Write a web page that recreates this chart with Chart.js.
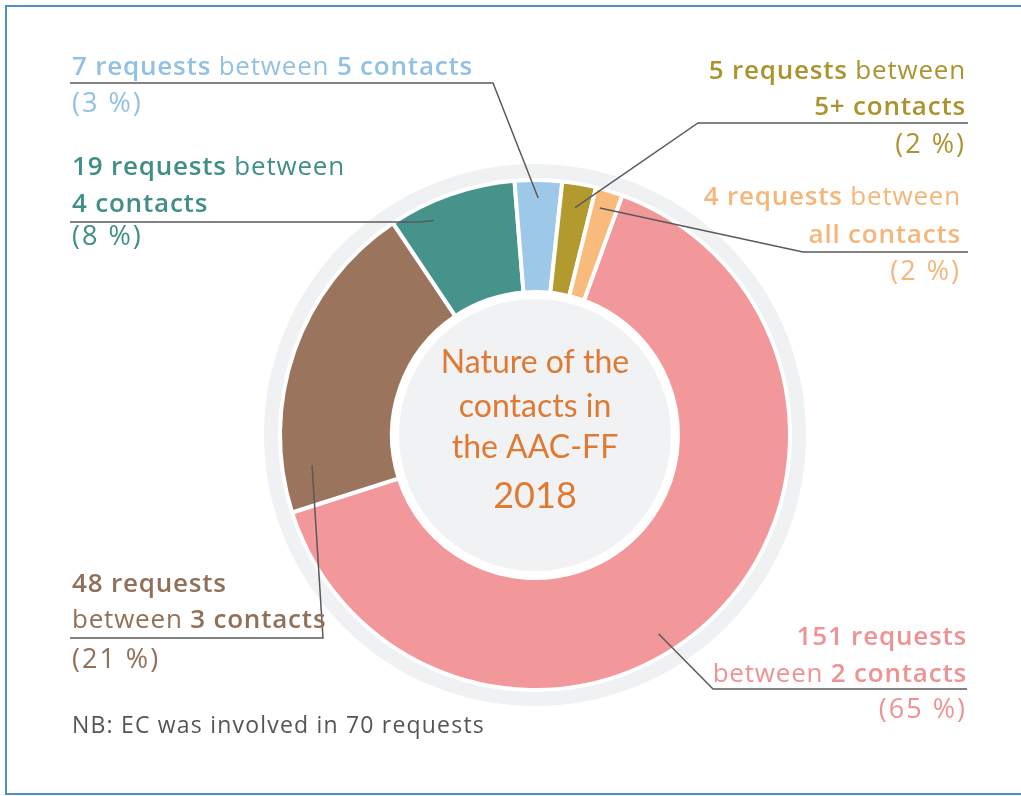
<!DOCTYPE html>
<html>
<head>
<meta charset="utf-8">
<script src="https://cdn.jsdelivr.net/npm/chart.js@4.4.0/dist/chart.umd.min.js"></script>
<style>
  html, body { margin: 0; padding: 0; background: #fff; }
  #wrap { position: relative; width: 1021px; height: 796px; }
</style>
</head>
<body>
<div id="wrap"><canvas id="contactsChart" width="1021" height="796"></canvas></div>
<script>
const categories = ["2 contacts", "3 contacts", "4 contacts", "5 contacts", "5+ contacts", "all contacts"];
const requests = [151, 48, 19, 7, 5, 4];
const shares = [65, 21, 8, 3, 2, 2];
const sliceColours = ["#f3989a", "#9a745c", "#46938c", "#9dc8e7", "#b29a2e", "#f8bb7c"];
const textColours = ["#ef9294", "#917059", "#3f8f87", "#92c1e3", "#ab942e", "#f6b679"];
const centerTitle = ["Nature of the", "contacts in", "the AAC-FF", "2018"];
const note = "NB: EC was involved in 70 requests";

const FONT = '"Open Sans", "DejaVu Sans", sans-serif';

// how each callout is laid out around the ring (index = slice index)
const callouts = [
  { i: 0, x: 967, align: "right", base: [645, 682, 718], rule: { y: 689, from: 967, to: 713 }, turn: 12, depth: 21,
    lines: i => [[[requests[i] + " requests", 1]], [["between ", 0], [categories[i], 1]], [["(" + shares[i] + " %)", 2]]] },
  { i: 1, x: 72, align: "left", base: [592, 628, 668], rule: { y: 638, from: 70, to: 323 }, turn: -27, depth: 30,
    lines: i => [[[requests[i] + " requests", 1]], [["between ", 0], [categories[i], 1]], [["(" + shares[i] + " %)", 2]]] },
  { i: 2, x: 72, align: "left", base: [175, 212, 245], rule: { y: 222, from: 70, to: 420 }, turn: -6, depth: 18,
    lines: i => [[[requests[i] + " requests", 1], [" between", 0]], [[categories[i], 1]], [["(" + shares[i] + " %)", 2]]] },
  { i: 3, x: 72, align: "left", base: [75, 112], rule: { y: 83, from: 70, to: 493 }, turn: 0, depth: 18,
    lines: i => [[[requests[i] + " requests", 1], [" between ", 0], [categories[i], 1]], [["(" + shares[i] + " %)", 2]]] },
  { i: 4, x: 966, align: "right", base: [79, 115, 153], rule: { y: 123, from: 968, to: 698 }, turn: 0, depth: 24,
    lines: i => [[[requests[i] + " requests", 1], [" between", 0]], [[categories[i], 1]], [["(" + shares[i] + " %)", 2]]] },
  { i: 5, x: 961, align: "right", base: [205, 243, 280], rule: { y: 252, from: 968, to: 803 }, turn: -1, depth: 19,
    lines: i => [[[requests[i] + " requests", 1], [" between", 0]], [[categories[i], 1]], [["(" + shares[i] + " %)", 2]]] }
];

function runFont(w) {
  if (w === 1) return "600 26px " + FONT;
  if (w === 2) return "500 27px " + FONT;
  return "400 26px " + FONT;
}
function runSpacing(w) {
  return w === 2 ? "2px" : "0.8px";
}

function drawRuns(ctx, runs, x, y, align) {
  let total = 0;
  runs.forEach(r => {
    ctx.font = runFont(r[1]);
    ctx.letterSpacing = runSpacing(r[1]);
    total += ctx.measureText(r[0]).width;
  });
  let cx = align === "right" ? x - total : x;
  ctx.textAlign = "left";
  runs.forEach(r => {
    ctx.font = runFont(r[1]);
    ctx.letterSpacing = runSpacing(r[1]);
    ctx.fillText(r[0], cx, y);
    cx += ctx.measureText(r[0]).width;
  });
  ctx.letterSpacing = "0px";
}

const decor = {
  id: "decor",
  beforeDraw(chart) {
    const ctx = chart.ctx;
    ctx.save();
    ctx.strokeStyle = "#4f91c3";
    ctx.lineWidth = 2;
    ctx.beginPath();
    ctx.moveTo(1030, 6);
    ctx.lineTo(6, 6);
    ctx.lineTo(6, 794);
    ctx.lineTo(1030, 794);
    ctx.stroke();
    ctx.restore();
  },
  beforeDatasetsDraw(chart) {
    const arc = chart.getDatasetMeta(0).data[0];
    const ctx = chart.ctx;
    ctx.save();
    ctx.strokeStyle = "#eff1f3";
    ctx.lineWidth = 16;
    ctx.beginPath();
    ctx.arc(arc.x, arc.y, arc.outerRadius + 8, 0, Math.PI * 2);
    ctx.stroke();
    ctx.restore();
  },
  afterDatasetsDraw(chart) {
    const meta = chart.getDatasetMeta(0);
    const first = meta.data[0];
    const ctx = chart.ctx;
    ctx.save();

    // inner disc
    ctx.fillStyle = "#f1f2f4";
    ctx.beginPath();
    ctx.arc(first.x, first.y, first.innerRadius - 7, 0, Math.PI * 2);
    ctx.fill();

    // centre title
    ctx.fillStyle = "#e07a32";
    ctx.textAlign = "center";
    ctx.textBaseline = "alphabetic";
    const titleBase = [373, 417, 458, 508];
    centerTitle.forEach((t, k) => {
      ctx.font = (k === 3 ? "36px " : "32px ") + '"Lato", sans-serif';
      ctx.fillText(t, first.x, titleBase[k]);
    });

    // callouts
    callouts.forEach(c => {
      const a = meta.data[c.i];
      const mid = (a.startAngle + a.endAngle) / 2 + c.turn * Math.PI / 180;
      const r = a.outerRadius - c.depth;
      const px = a.x + r * Math.cos(mid);
      const py = a.y + r * Math.sin(mid);

      ctx.strokeStyle = "#5a5a5a";
      ctx.lineWidth = 1.5;
      ctx.beginPath();
      ctx.moveTo(c.rule.from, c.rule.y);
      ctx.lineTo(c.rule.to, c.rule.y);
      ctx.lineTo(px, py);
      ctx.stroke();

      ctx.fillStyle = textColours[c.i];
      c.lines(c.i).forEach((runs, k) => drawRuns(ctx, runs, c.x, c.base[k], c.align));
    });

    ctx.fillStyle = "#555555";
    ctx.font = "400 23px " + FONT;
    ctx.letterSpacing = "1.2px";
    ctx.textAlign = "left";
    ctx.fillText(note, 72, 733);
    ctx.letterSpacing = "0px";
    ctx.restore();
  }
};

new Chart(document.getElementById("contactsChart"), {
  type: "doughnut",
  data: {
    labels: categories,
    datasets: [{
      data: requests,
      backgroundColor: sliceColours,
      borderColor: "#ffffff",
      borderWidth: 4
    }]
  },
  options: {
    responsive: false,
    animation: false,
    events: [],
    rotation: 20,
    cutout: 143,
    layout: { padding: { left: 278, top: 178, right: 229, bottom: 104 } },
    plugins: { legend: { display: false }, tooltip: { enabled: false } }
  },
  plugins: [decor]
});
</script>
</body>
</html>
